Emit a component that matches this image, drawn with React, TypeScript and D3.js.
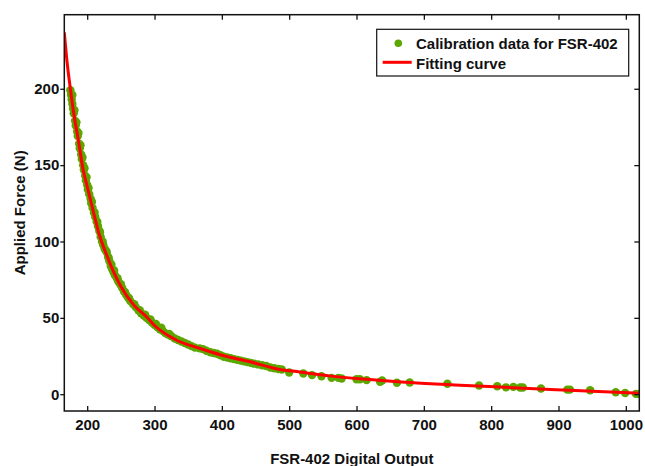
import React, { useRef, useEffect } from "react";
import * as d3 from "d3";

// calibration readings (digital output vs applied force, N)
const calibOutput = [
  175, 176, 177, 178, 179, 180, 182, 183, 185, 186, 188, 189, 191, 192, 194,
  195, 197, 198, 200, 201, 203, 205, 206, 208, 210, 212, 214, 216, 218, 220,
  222, 224, 226, 229, 231, 233, 235, 237, 239, 241, 244, 246, 249, 252, 255,
  258, 261, 264, 268, 272, 276, 280, 284, 288, 292, 296, 300, 304, 308, 312,
  316, 320, 325, 330, 335, 340, 345, 350, 355, 360, 367, 372, 377, 383, 388,
  393, 398, 403, 408, 413, 418, 423, 428, 433, 438, 443, 448, 454, 460, 466,
  472, 478, 484, 489, 500, 521, 534, 548, 563, 573, 578, 600, 605, 615, 635,
  638, 660, 679, 735, 782, 809, 822, 833, 843, 847, 874, 913, 917, 947, 985,
  999, 1015, 1019,
  // a second run of readings sitting slightly off the first in the steep part
  178, 181, 184, 187, 190, 193, 196, 199, 202, 207, 211, 215, 219, 223, 228,
  232, 236, 240, 245, 250, 256, 262, 270, 278, 286, 294, 302, 310, 322,
];
const calibForce = [
  199, 196, 193, 190, 187, 184, 179, 176, 172, 169, 164, 161, 157, 154, 150,
  147, 143, 140, 137, 134, 131, 128, 125, 122, 119, 116, 113, 110, 107, 103,
  100, 97.5, 95, 93, 90, 87, 84, 82, 80, 78, 76, 74, 72, 69.5, 67,
  65, 63, 61, 59, 57, 55, 53, 51.5, 50, 48.5, 47, 45.5, 44, 42.5, 41.5,
  40, 39, 38, 36.5, 35.5, 34.5, 33.5, 32.5, 31.5, 30.5, 30, 29.5, 28.5, 27.5, 27,
  26.5, 25.5, 24.5, 24, 23.5, 23, 22.5, 22, 21.5, 21, 20.5, 20, 19.5, 19, 18.5,
  17.5, 17, 16.5, 16.2, 14.2, 13.6, 12.5, 11.8, 10.7, 10.7, 10.3, 9.8, 9.8, 9.2, 8.1,
  9.0, 7.5, 7.7, 6.8, 5.7, 5.2, 4.5, 4.8, 4.4, 4.4, 3.7, 3.0, 3.0, 2.6, 1.3,
  0.8, 0.2, 0.2,
  196, 186, 178, 171, 163, 155, 148, 142, 135, 126, 119, 113, 106, 100, 94,
  89, 85, 81, 76, 72, 67, 63, 59, 55, 52, 49, 46, 43.5, 39.5,
];

// fitted curve
const fitOutput = [
  166, 170, 175, 180, 187, 194, 200, 210, 216, 229, 249, 270, 288, 300, 330,
  368, 400, 442, 486, 516, 560, 620, 680, 754, 820, 888, 950, 1020,
];
const fitForce = [
  237, 218, 200, 184, 166, 147, 136, 118, 107.5, 91, 71.4, 58, 50.7, 45, 36,
  29.9, 25.5, 21.2, 16.2, 14.6, 12, 9.6, 7.6, 5.9, 4.5, 3.1, 2.0, 0.7,
];

const xTicks = [200, 300, 400, 500, 600, 700, 800, 900, 1000];
const yTicks = [0, 50, 100, 150, 200];
const legendLabels = ["Calibration data for FSR-402", "Fitting curve"];

const GREEN = "#5ba700";
const RED = "#ff0000";
const FONT = "'Liberation Sans', Arial, sans-serif";

export default function App() {
  const svgRef = useRef(null);

  useEffect(() => {
    document.body.style.margin = "0";
    const svg = d3.select(svgRef.current);
    svg.selectAll("*").remove();

    const left = 64.3,
      right = 639.3,
      top = 14.7,
      bottom = 411;

    const x = d3.scaleLinear().domain([166, 1020]).range([left, right]);
    const y = d3.scaleLinear().domain([-11, 248.5]).range([bottom, top]);

    svg
      .append("rect")
      .attr("width", 645)
      .attr("height", 466)
      .attr("fill", "#ffffff");

    svg
      .append("clipPath")
      .attr("id", "plot-clip")
      .append("rect")
      .attr("x", left)
      .attr("y", top)
      .attr("width", right - left)
      .attr("height", bottom - top);

    const plot = svg.append("g").attr("clip-path", "url(#plot-clip)");

    const points = calibOutput.map((v, i) => ({ x: v, f: calibForce[i] }));
    plot
      .selectAll(".dot")
      .data(points)
      .enter()
      .append("circle")
      .attr("class", "dot")
      .attr("cx", (d) => x(d.x))
      .attr("cy", (d) => y(d.f))
      .attr("r", 4.2)
      .attr("fill", GREEN);

    const fit = fitOutput.map((v, i) => [v, fitForce[i]]);
    const line = d3
      .line()
      .x((d) => x(d[0]))
      .y((d) => y(d[1]))
      .curve(d3.curveMonotoneX);

    plot
      .append("path")
      .attr("d", line(fit))
      .attr("fill", "none")
      .attr("stroke", RED)
      .attr("stroke-width", 3);

    // axes
    const styleAxis = (g) => {
      g.select(".domain").remove();
      g.selectAll("line").attr("stroke", "#111").attr("stroke-width", 1.3);
      g.selectAll("text")
        .attr("fill", "#111")
        .style("font-family", FONT)
        .style("font-weight", "bold")
        .style("font-size", "15px");
    };

    svg
      .append("g")
      .attr("transform", `translate(0, ${bottom})`)
      .call(
        d3
          .axisBottom(x)
          .tickValues(xTicks)
          .tickFormat(d3.format("d"))
          .tickSize(-5)
          .tickPadding(8)
      )
      .call(styleAxis);

    svg
      .append("g")
      .attr("transform", `translate(0, ${top})`)
      .call(d3.axisTop(x).tickValues(xTicks).tickSize(-5).tickFormat(() => ""))
      .call(styleAxis);

    svg
      .append("g")
      .attr("transform", `translate(${left}, 0)`)
      .call(d3.axisLeft(y).tickValues(yTicks).tickSize(4).tickPadding(1))
      .call(styleAxis);

    svg
      .append("g")
      .attr("transform", `translate(${right}, 0)`)
      .call(d3.axisRight(y).tickValues(yTicks).tickSize(-5).tickFormat(() => ""))
      .call(styleAxis);

    svg
      .append("rect")
      .attr("x", left)
      .attr("y", top)
      .attr("width", right - left)
      .attr("height", bottom - top)
      .attr("fill", "none")
      .attr("stroke", "#111")
      .attr("stroke-width", 1.5);

    // axis labels
    svg
      .append("text")
      .attr("x", (left + right) / 2)
      .attr("y", 463.5)
      .attr("text-anchor", "middle")
      .style("font-family", FONT)
      .style("font-weight", "bold")
      .style("font-size", "15px")
      .attr("fill", "#111")
      .text("FSR-402 Digital Output");

    svg
      .append("text")
      .attr("transform", `translate(24.5, ${(top + bottom) / 2}) rotate(-90)`)
      .attr("text-anchor", "middle")
      .style("font-family", FONT)
      .style("font-weight", "bold")
      .style("font-size", "15px")
      .attr("fill", "#111")
      .text("Applied Force (N)");

    // legend
    const legend = svg.append("g");
    legend
      .append("rect")
      .attr("x", 376.7)
      .attr("y", 29.3)
      .attr("width", 252)
      .attr("height", 46.7)
      .attr("fill", "#ffffff")
      .attr("stroke", "#111")
      .attr("stroke-width", 1.2);

    legend
      .append("circle")
      .attr("cx", 398.3)
      .attr("cy", 43.3)
      .attr("r", 3.8)
      .attr("fill", GREEN);

    legend
      .append("line")
      .attr("x1", 382.7)
      .attr("x2", 411.7)
      .attr("y1", 62.3)
      .attr("y2", 62.3)
      .attr("stroke", RED)
      .attr("stroke-width", 3);

    legendLabels.forEach((t, i) => {
      legend
        .append("text")
        .attr("x", 416)
        .attr("y", 48.5 + i * 20.5)
        .style("font-family", FONT)
        .style("font-weight", "bold")
        .style("font-size", "15px")
        .attr("fill", "#111")
        .text(t);
    });
  }, []);

  return (
    <div style={{ position: "absolute", left: 0, top: 0 }}>
      <svg ref={svgRef} width={645} height={466} style={{ display: "block" }}></svg>
    </div>
  );
}
